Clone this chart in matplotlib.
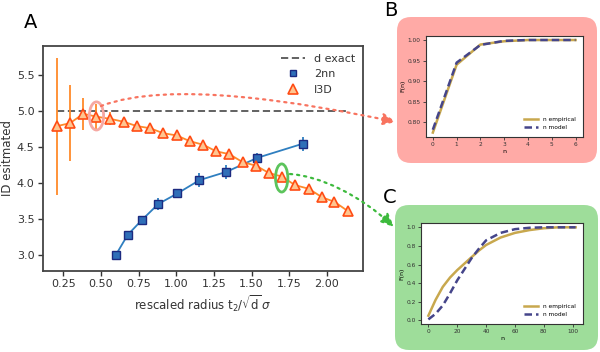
"""ID estimate vs rescaled radius, with F(n) insets"""

import numpy as np
import matplotlib
matplotlib.use("Agg")
import matplotlib.pyplot as plt
from matplotlib.patches import Ellipse, FancyBboxPatch, FancyArrowPatch
from matplotlib.path import Path
from matplotlib.lines import Line2D

# main panel data
i3d_x = [0.21, 0.294, 0.383, 0.47, 0.56, 0.65, 0.737, 0.826, 0.914, 1.003, 1.09, 1.18,
         1.264, 1.353, 1.44, 1.53, 1.614, 1.70, 1.79, 1.88, 1.97, 2.05, 2.14]
i3d_y = [4.79, 4.83, 4.96, 4.92, 4.89, 4.85, 4.79, 4.76, 4.69, 4.66, 4.58, 4.53,
         4.44, 4.40, 4.29, 4.24, 4.14, 4.09, 3.97, 3.92, 3.80, 3.74, 3.61]
i3d_err = [0.95, 0.53, 0.22, 0.18, 0.09, 0.06, 0.04, 0.03, 0.03, 0.03, 0.03, 0.02,
           0.02, 0.02, 0.02, 0.02, 0.02, 0.02, 0.02, 0.02, 0.02, 0.02, 0.02]
nn_x = [0.598, 0.677, 0.773, 0.881, 1.007, 1.154, 1.333, 1.539, 1.84]
nn_y = [3.00, 3.28, 3.49, 3.71, 3.855, 4.04, 4.155, 4.35, 4.545]
nn_err = [0.05, 0.06, 0.05, 0.08, 0.03, 0.1, 0.1, 0.07, 0.1]
d_exact = 5.0

# inset B
b_n = [0, 1, 2, 3, 4, 5, 6]
b_emp = [0.775, 0.940, 0.989, 0.997, 1.000, 1.000, 1.000]
b_model = [0.782, 0.945, 0.988, 0.998, 1.000, 1.000, 1.000]

# inset C
c_n = [0, 5, 10, 15, 20, 25, 30, 35, 40, 50, 60, 70, 80, 90, 102]
c_emp = [0.05, 0.22, 0.36, 0.46, 0.54, 0.61, 0.68, 0.75, 0.81, 0.89, 0.94, 0.97, 0.99, 1.0, 1.0]
c_model = [0.01, 0.07, 0.16, 0.29, 0.43, 0.55, 0.67, 0.77, 0.86, 0.94, 0.98, 0.995, 1.0, 1.0, 1.0]

EMP_C = "#c8a84e"
MOD_C = "#45458a"
SALMON = "#f8735f"
GREEN = "#3dba3d"

fig = plt.figure(figsize=(6.0, 3.52), dpi=100)

# ---- panel A
ax = fig.add_axes([43 / 600, 1 - 271 / 352, 320 / 600, 225 / 352])
ax.plot([i3d_x[0], i3d_x[-1]], [d_exact, d_exact], color="#555555", lw=1.3,
        dashes=(4, 2), zorder=1)
ax.errorbar(nn_x, nn_y, yerr=nn_err, color="#2f7fc0", lw=1.3, elinewidth=1.3,
            marker="s", ms=5.5, mfc="#2f6fb8", mec="#1c2a80", mew=1.0, zorder=3)
ax.errorbar(i3d_x, i3d_y, yerr=i3d_err, color="#ff8a2a", lw=1.3, elinewidth=1.3,
            marker="^", ms=6.5, mfc="#ffc590", mec="#ff4c14", mew=1.2, zorder=4)
ax.add_patch(Ellipse((0.47, 4.93), 0.095, 0.39, fill=False, ec="#f6a8a2", lw=2, zorder=5))
ax.add_patch(Ellipse((1.70, 4.07), 0.082, 0.39, fill=False, ec="#5cc45c", lw=2, zorder=5))

ax.set_xlim(0.115, 2.24)
ax.set_ylim(2.78, 5.9)
ax.set_xticks([0.25, 0.5, 0.75, 1.0, 1.25, 1.5, 1.75, 2.0])
ax.set_yticks([3.0, 3.5, 4.0, 4.5, 5.0, 5.5])
ax.tick_params(labelsize=8, colors="#333333", length=3.5, width=1, pad=2.5)
for s in ax.spines.values():
    s.set_color("#444444")
    s.set_linewidth(1.3)
ax.set_xlabel(r"rescaled radius t$_2/\sqrt{\mathrm{d}}\,\sigma$", fontsize=8.5,
              color="#333333", labelpad=3)
ax.set_ylabel("ID esitmated", fontsize=8.5, color="#333333", labelpad=2)

handles = [
    Line2D([], [], color="#555555", lw=1.3, dashes=(4, 2)),
    Line2D([], [], ls="none", marker="s", ms=5, mfc="#2f6fb8", mec="#1c2a80"),
    Line2D([], [], ls="none", marker="^", ms=6.5, mfc="#ffc590", mec="#ff4c14", mew=1.2),
]
leg = ax.legend(handles, ["d exact", "2nn", "I3D"], loc="upper right", frameon=False,
                fontsize=8, handlelength=2.2, borderaxespad=0.3)
for t in leg.get_texts():
    t.set_color("#333333")

# ---- background boxes for insets (inch coords), behind the inset axes
box_b = FancyBboxPatch((3.97, 3.52 - 1.63), 2.0, 1.46,
                       boxstyle="round,pad=0,rounding_size=0.14",
                       transform=fig.dpi_scale_trans, fc="#ffaaa6", ec="none", zorder=-1)
box_c = FancyBboxPatch((3.95, 3.52 - 3.50), 2.03, 1.45,
                       boxstyle="round,pad=0,rounding_size=0.14",
                       transform=fig.dpi_scale_trans, fc="#9edd9a", ec="none", zorder=-1)
fig.add_artist(box_b)
fig.add_artist(box_c)


def inset(rect, n, emp, mod):
    a = fig.add_axes(rect)
    a.plot(n, emp, color=EMP_C, lw=1.8, label="n empirical")
    a.plot(n, mod, color=MOD_C, lw=1.8, dashes=(3, 1.6), label="n model")
    a.tick_params(labelsize=4.2, length=2, width=0.6, pad=1.5, colors="#333333")
    for s in a.spines.values():
        s.set_color("#333333")
        s.set_linewidth(0.8)
    a.set_xlabel("n", fontsize=4.5, labelpad=1.5)
    a.set_ylabel("F(n)", fontsize=4.5, labelpad=1.5)
    a.legend(loc="lower right", frameon=False, fontsize=4.2, handlelength=2.5,
             borderaxespad=0.8)
    return a


ax_b = inset([425.7 / 600, 1 - 136.7 / 352, 157 / 600, 101 / 352], b_n, b_emp, b_model)
ax_b.set_ylim(0.765, 1.0105)
ax_b.set_yticks([0.80, 0.85, 0.90, 0.95, 1.00])
ax_b.set_xticks(b_n)

ax_c = inset([421 / 600, 1 - 324 / 352, 162 / 600, 101.3 / 352], c_n, c_emp, c_model)
ax_c.set_yticks([0.0, 0.2, 0.4, 0.6, 0.8, 1.0])
ax_c.set_xticks([0, 20, 40, 60, 80, 100])


# ---- dotted arrows (pixel coords, top-left origin -> inches)
def px(x, y):
    return (x / 100, (352 - y) / 100)


def curve(pts, color):
    path = Path([px(*p) for p in pts],
                [Path.MOVETO, Path.CURVE4, Path.CURVE4, Path.CURVE4])
    arr = FancyArrowPatch(path=path, arrowstyle="-|>,head_length=8,head_width=3.6",
                          transform=fig.dpi_scale_trans, color=color, lw=1.6,
                          ls=(0, (1, 2.2)), mutation_scale=1)
    fig.add_artist(arr)


curve([(101, 106), (170, 80), (300, 102), (396, 122)], SALMON)
curve([(290, 174), (320, 176), (360, 195), (394, 227)], GREEN)

fig.text(24 / 600, 1 - 13 / 352, "A", fontsize=14, va="top")
fig.text(384 / 600, 1 - 1 / 352, "B", fontsize=14, va="top")
fig.text(383 / 600, 1 - 188 / 352, "C", fontsize=14, va="top")

plt.savefig("out.png", dpi=100)
